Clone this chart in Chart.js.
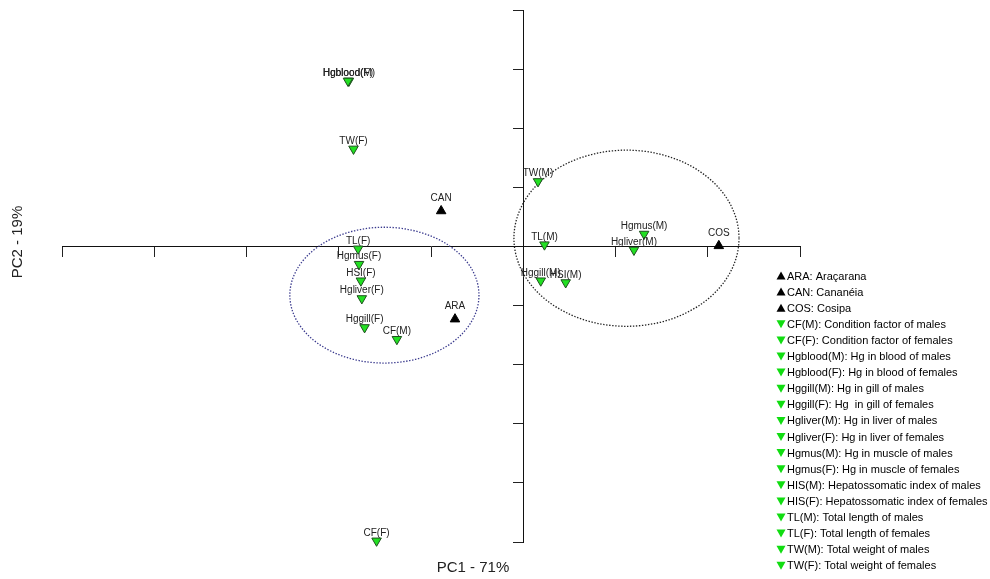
<!DOCTYPE html>
<html>
<head>
<meta charset="utf-8">
<title>PCA biplot</title>
<script src="https://cdn.jsdelivr.net/npm/chart.js@4.4.1/dist/chart.umd.min.js"></script>
<style>
  html, body { margin: 0; padding: 0; background: #ffffff; }
  canvas { display: block; }
</style>
</head>
<body>
<canvas id="pca" width="990" height="579"></canvas>
<script>
// Sampling sites (scores)
const siteNames = ['ARA', 'CAN', 'COS'];
const sitePC1 = [-0.74, -0.89, 2.12];
const sitePC2 = [-1.23, 0.60, 0.01];

// Biological variables (loadings)
const varNames = ['Hgblood(M)', 'Hgblood(F)', 'TW(F)', 'TW(M)', 'TL(F)', 'Hgmus(F)', 'HSI(F)', 'Hgliver(F)',
                  'Hggill(F)', 'CF(M)', 'TL(M)', 'Hgmus(M)', 'Hgliver(M)', 'Hggill(M)', 'HSI(M)', 'CF(F)'];
const varPC1 = [-1.89, -1.90, -1.84, 0.16, -1.79, -1.78, -1.76, -1.75,
                -1.72, -1.37, 0.23, 1.31, 1.20, 0.19, 0.46, -1.59];
const varPC2 = [2.80, 2.80, 1.65, 1.10, -0.04, -0.30, -0.58, -0.88,
                -1.37, -1.57, 0.03, 0.21, -0.06, -0.58, -0.61, -4.98];

// Axis ranges (PC units)
const pc1Range = [-5, 3];
const pc2Range = [-5, 4];
const axisTitles = ['PC1 - 71%', 'PC2 - 19%'];

// Group ellipses: centre PC1, centre PC2, radius PC1, radius PC2
const groupFemale = [-1.505, -0.824, 1.025, 1.149];
const groupMale = [1.119, 0.139, 1.220, 1.490];

// Key
const keyKinds = ['site', 'site', 'site', 'var', 'var', 'var', 'var', 'var', 'var', 'var', 'var', 'var', 'var', 'var', 'var', 'var', 'var', 'var', 'var'];
const keyTexts = [
  'ARA: Araçarana',
  'CAN: Cananéia',
  'COS: Cosipa',
  'CF(M): Condition factor of males',
  'CF(F): Condition factor of females',
  'Hgblood(M): Hg in blood of males',
  'Hgblood(F): Hg in blood of females',
  'Hggill(M): Hg in gill of males',
  'Hggill(F): Hg  in gill of females',
  'Hgliver(M): Hg in liver of males',
  'Hgliver(F): Hg in liver of females',
  'Hgmus(M): Hg in muscle of males',
  'Hgmus(F): Hg in muscle of females',
  'HIS(M): Hepatossomatic index of males',
  'HIS(F): Hepatossomatic index of females',
  'TL(M): Total length of males',
  'TL(F): Total length of females',
  'TW(M): Total weight of males',
  'TW(F): Total weight of females'
];

const GREEN = '#22e022';
const FONT = '"Liberation Sans", Arial, sans-serif';

const toPoints = (xs, ys) => xs.map((x, i) => ({ x: x, y: ys[i] }));

// Dotted group ellipses, placed through the chart's scales
const ellipsePlugin = {
  id: 'groupEllipses',
  beforeDatasetsDraw(chart) {
    const { ctx, scales: { x, y } } = chart;
    const ux = Math.abs(x.getPixelForValue(1) - x.getPixelForValue(0));
    const uy = Math.abs(y.getPixelForValue(1) - y.getPixelForValue(0));
    const draw = (g, color) => {
      ctx.save();
      ctx.beginPath();
      ctx.ellipse(x.getPixelForValue(g[0]), y.getPixelForValue(g[1]), g[2] * ux, g[3] * uy, 0, 0, Math.PI * 2);
      ctx.setLineDash([1.4, 1.6]);
      ctx.lineWidth = 1.3;
      ctx.strokeStyle = color;
      ctx.stroke();
      ctx.restore();
    };
    draw(groupFemale, '#3a3a8e');
    draw(groupMale, '#222222');
  }
};

// Point labels above each marker
const labelPlugin = {
  id: 'pointLabels',
  afterDatasetsDraw(chart) {
    const ctx = chart.ctx;
    ctx.save();
    ctx.font = '10px ' + FONT;
    ctx.fillStyle = '#222';
    ctx.textAlign = 'center';
    ctx.textBaseline = 'alphabetic';
    chart.data.datasets.forEach((ds, di) => {
      const meta = chart.getDatasetMeta(di);
      const names = ds.pointNames;
      const lift = ds.labelLift;
      meta.data.forEach((el, i) => {
        ctx.fillText(names[i], el.x, el.y - lift);
      });
    });
    ctx.restore();
  }
};

// Axis titles and the key on the right
const annotPlugin = {
  id: 'titlesAndKey',
  afterDraw(chart) {
    const ctx = chart.ctx;
    ctx.save();
    ctx.fillStyle = '#222';
    ctx.font = '15px ' + FONT;
    ctx.textAlign = 'center';
    ctx.textBaseline = 'middle';
    ctx.fillText(axisTitles[0], 473, 568);
    ctx.translate(18, 242);
    ctx.rotate(-Math.PI / 2);
    ctx.fillText(axisTitles[1], 0, 0);
    ctx.restore();

    ctx.save();
    ctx.font = '11px ' + FONT;
    ctx.textBaseline = 'middle';
    ctx.textAlign = 'left';
    const x0 = 781, y0 = 276, step = 16.1;
    keyTexts.forEach((t, i) => {
      const cy = y0 + i * step;
      ctx.beginPath();
      if (keyKinds[i] === 'site') {
        ctx.moveTo(x0, cy - 4.5);
        ctx.lineTo(x0 + 4.5, cy + 3.5);
        ctx.lineTo(x0 - 4.5, cy + 3.5);
        ctx.fillStyle = '#000';
      } else {
        ctx.moveTo(x0 - 4.5, cy - 4);
        ctx.lineTo(x0 + 4.5, cy - 4);
        ctx.lineTo(x0, cy + 4);
        ctx.fillStyle = '#11dd11';
      }
      ctx.closePath();
      ctx.fill();
      ctx.fillStyle = '#000';
      ctx.fillText(t, x0 + 6, cy + 0.5);
    });
    ctx.restore();
  }
};

new Chart(document.getElementById('pca'), {
  type: 'scatter',
  data: {
    datasets: [
      {
        label: 'Sites',
        data: toPoints(sitePC1, sitePC2),
        pointNames: siteNames,
        labelLift: 10,
        pointStyle: 'triangle',
        rotation: 0,
        radius: 5.5,
        backgroundColor: '#000',
        borderColor: '#000',
        borderWidth: 1,
        clip: false
      },
      {
        label: 'Variables',
        data: toPoints(varPC1, varPC2),
        pointNames: varNames,
        labelLift: 5,
        pointStyle: 'triangle',
        rotation: 180,
        radius: 5.5,
        backgroundColor: GREEN,
        borderColor: '#1f4f1f',
        borderWidth: 1,
        clip: false
      }
    ]
  },
  options: {
    responsive: false,
    devicePixelRatio: 1,
    animation: false,
    events: [],
    layout: { padding: { left: 62, right: 190, top: 10, bottom: 37 } },
    plugins: { legend: { display: false }, tooltip: { enabled: false }, title: { display: false } },
    scales: {
      x: {
        type: 'linear',
        position: { y: 0 },
        min: pc1Range[0],
        max: pc1Range[1],
        ticks: { display: false, stepSize: 1 },
        grid: { drawOnChartArea: false, drawTicks: true, tickLength: 10, color: '#222', lineWidth: 1 },
        border: { display: true, color: '#111', width: 1 }
      },
      y: {
        type: 'linear',
        position: { x: 0 },
        min: pc2Range[0],
        max: pc2Range[1],
        ticks: { display: false, stepSize: 1 },
        grid: { drawOnChartArea: false, drawTicks: true, tickLength: 10, color: '#222', lineWidth: 1 },
        border: { display: true, color: '#111', width: 1 }
      }
    }
  },
  plugins: [ellipsePlugin, labelPlugin, annotPlugin]
});
</script>
</body>
</html>
